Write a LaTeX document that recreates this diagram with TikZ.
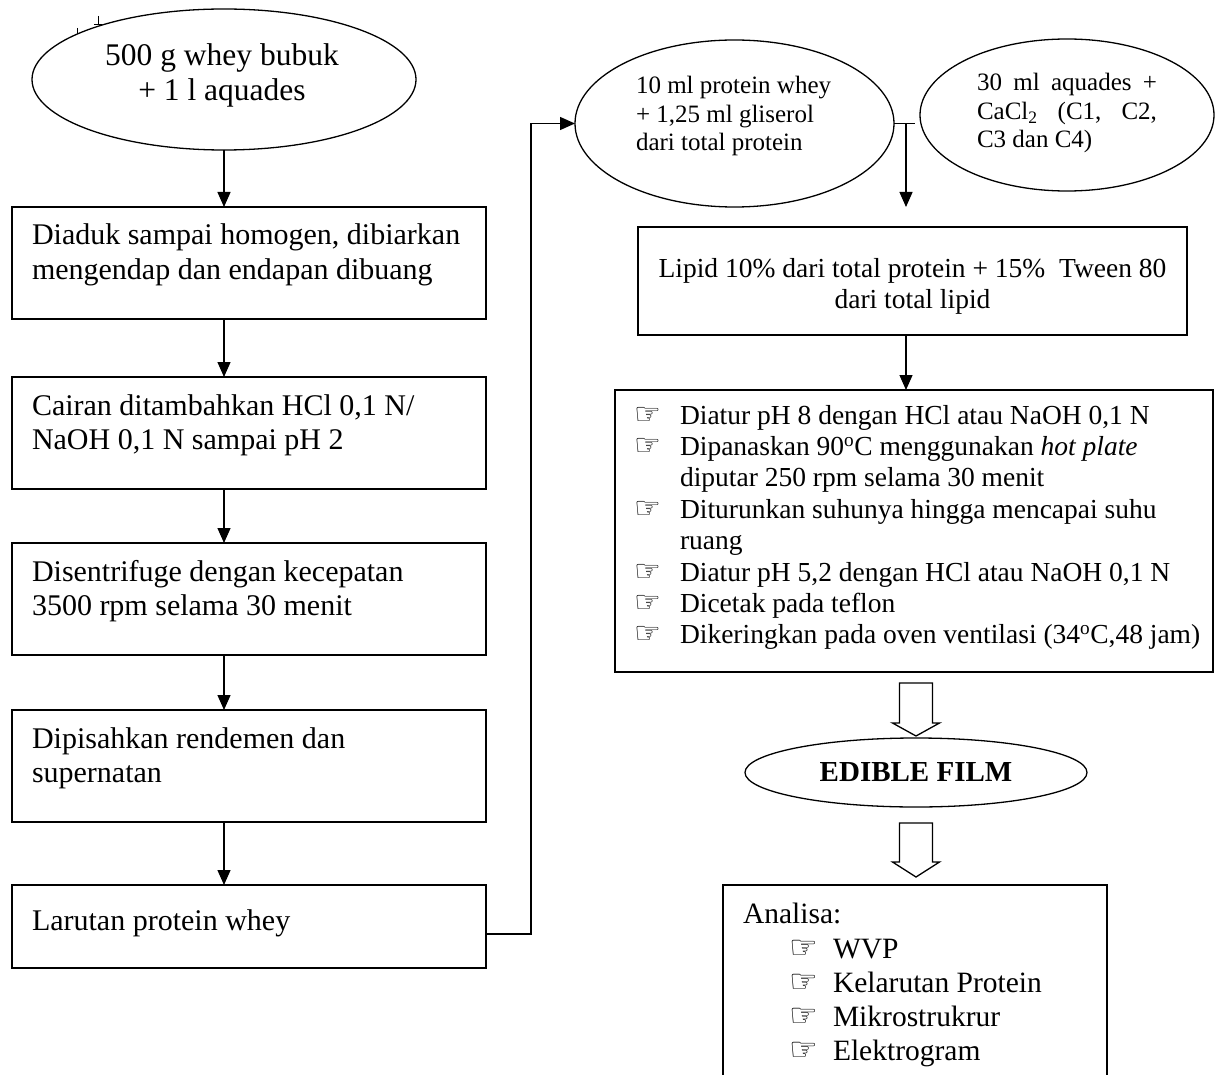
\documentclass[tikz,border=0pt]{standalone}
\usepackage{fontspec}
\setmainfont{Liberation Serif}
\newfontfamily\handfont{DejaVu Sans}
\usetikzlibrary{shapes.geometric,arrows.meta}
\newcommand{\hnd}[1]{{\handfont\fontsize{#1}{#1}\selectfont ☞}}
\newcommand{\llines}[1]{\begin{tabular}[t]{@{}l@{}}#1\end{tabular}}
\newcommand{\clines}[1]{\begin{tabular}[t]{@{}c@{}}#1\end{tabular}}
\begin{document}
\begin{tikzpicture}[x=1pt,y=-1pt,
  box/.style={draw, line width=1.6pt, rectangle, inner sep=0pt, outer sep=0pt, anchor=north west},
  oval/.style={draw, line width=1.3pt, ellipse, inner sep=0pt, outer sep=0pt},
  arr/.style={line width=1.3pt, -{Triangle[width=13pt,length=15pt]}},
  ln/.style={line width=1.3pt},
  hollow/.style={line width=1.3pt, fill=white, line join=miter},
  txt/.style={inner sep=0pt, outer sep=0pt},
  big/.style={font=\fontsize{30}{34.5}\selectfont},
  mid/.style={font=\fontsize{27.5}{31.4}\selectfont},
  small/.style={font=\fontsize{25}{28.5}\selectfont}
]
\useasboundingbox (0,0) rectangle (1215,1075);

% small marks top-left
\draw[line width=1pt] (77,28) -- (77,34);
\draw[line width=1pt] (98,16) -- (98,25) (94,25) -- (102,25);

% left column
\node[oval, minimum width=384pt, minimum height=141pt] (e1) at (224,79.5) {};
\node[txt, anchor=base, font=\fontsize{31.5}{35}\selectfont] (t0) at (222,66)
  {\clines{500 g whey bubuk\\+ 1 l aquades}};

\node[box, minimum width=474pt, minimum height=112pt] (b1) at (12,207) {};
\node[txt, big, anchor=base west] (t1) at (32,245)
  {\llines{Diaduk sampai homogen, dibiarkan\\mengendap dan endapan dibuang}};

\node[box, minimum width=474pt, minimum height=112pt] (b2) at (12,377) {};
\node[txt, big, anchor=base west] (t2) at (32,415)
  {\llines{Cairan ditambahkan HCl 0,1 N/\\NaOH 0,1 N sampai pH 2}};

\node[box, minimum width=474pt, minimum height=112pt] (b3) at (12,543) {};
\node[txt, big, anchor=base west] (t3) at (32,581)
  {\llines{Disentrifuge dengan kecepatan\\3500 rpm selama 30 menit}};

\node[box, minimum width=474pt, minimum height=112pt] (b4) at (12,710) {};
\node[txt, big, anchor=base west] (t4) at (32,748)
  {\llines{Dipisahkan rendemen dan\\supernatan}};

\node[box, minimum width=474pt, minimum height=83pt] (b5) at (12,885) {};
\node[txt, big, anchor=base west] (t5) at (32,930) {Larutan protein whey};

\draw[arr] (e1.south) -- (e1.south |- b1.north);
\draw[arr] (b1.south -| e1.south) -- (b2.north -| e1.south);
\draw[arr] (b2.south -| e1.south) -- (b3.north -| e1.south);
\draw[arr] (b3.south -| e1.south) -- (b4.north -| e1.south);
\draw[arr] (b4.south -| e1.south) -- (b5.north -| e1.south);

% right top ellipses
\node[oval, minimum width=319pt, minimum height=167pt] (e2) at (734.5,123.5) {};
\node[txt, small, anchor=base west] (t6) at (636,94)
  {\llines{10 ml protein whey\\+ 1,25 ml gliserol\\dari total protein}};

\node[oval, minimum width=294pt, minimum height=152pt] (e3) at (1067,115) {};
\node[txt, small, anchor=base west] (t7) at (977,91)
  {\llines{\hbox to 180pt{30\hfill ml\hfill aquades\hfill +}\\
  \hbox to 180pt{CaCl\textsubscript{2}\hfill (C1,\hfill C2,}\\C3 dan C4)}};

% connector from Larutan to e2
\coordinate (c1) at (531,934);
\draw[arr] (b5.east |- c1) -- (c1) |- (e2.west);

% junction
\coordinate (j) at (906,123.5);
\coordinate (jend) at (915,123.5);
\coordinate (jtip) at (906,207);
\draw[ln] (e2.east) -- (jend);
\draw[arr] (j) -- (jtip);

% Lipid box
\node[box, minimum width=549pt, minimum height=108pt] (lp) at (638,227) {};
\node[txt, mid, anchor=base] (t8) at (912.5,277)
  {\clines{Lipid 10\% dari total protein + 15\%\ \ Tween 80\\dari total lipid}};

% list box
\node[box, minimum width=598pt, minimum height=282pt] (ls) at (615,390) {};
\draw[arr] (lp.south -| j) -- (ls.north -| j);
\node[txt, mid, anchor=base west] (t9) at (634,424)
  {\begin{tabular}[t]{@{}l@{}l@{}}
  \makebox[46pt][l]{\hnd{30}} & Diatur pH 8 dengan HCl atau NaOH 0,1 N\\
  \makebox[46pt][l]{\hnd{30}} & Dipanaskan 90\textsuperscript{o}C menggunakan \textit{hot plate}\\
   & diputar 250 rpm selama 30 menit\\
  \makebox[46pt][l]{\hnd{30}} & Diturunkan suhunya hingga mencapai suhu\\
   & ruang\\
  \makebox[46pt][l]{\hnd{30}} & Diatur pH 5,2 dengan HCl atau NaOH 0,1 N\\
  \makebox[46pt][l]{\hnd{30}} & Dicetak pada teflon\\
  \makebox[46pt][l]{\hnd{30}} & Dikeringkan pada oven ventilasi (34\textsuperscript{o}C,48 jam)
  \end{tabular}};

% hollow arrows
\draw[hollow] (899.5,683) -- (932.5,683) -- (932.5,723) -- (939.5,723) -- (916,736)
  -- (892.5,723) -- (899.5,723) -- cycle;
\node[oval, minimum width=342pt, minimum height=69pt] (ed) at (916,772.5) {};
\node[txt, anchor=base, font=\bfseries\fontsize{29}{34}\selectfont] (t10) at (916,781) {EDIBLE FILM};
\draw[hollow] (899.5,823) -- (932.5,823) -- (932.5,862) -- (939.5,862) -- (916,877)
  -- (892.5,862) -- (899.5,862) -- cycle;

% analysis box (open at bottom of page)
\node[box, minimum width=384pt, minimum height=205pt] (an) at (723,885) {};
\node[txt, font=\fontsize{29.5}{34}\selectfont, anchor=base west] (t11) at (743,923) {Analisa:};
\node[txt, font=\fontsize{29.5}{34}\selectfont, anchor=base west] (t12) at (789,958)
  {\begin{tabular}[t]{@{}l@{}l@{}}
  \makebox[44pt][l]{\hnd{32}} & WVP\\
  \makebox[44pt][l]{\hnd{32}} & Kelarutan Protein\\
  \makebox[44pt][l]{\hnd{32}} & Mikrostrukrur\\
  \makebox[44pt][l]{\hnd{32}} & Elektrogram
  \end{tabular}};
\end{tikzpicture}
\end{document}
